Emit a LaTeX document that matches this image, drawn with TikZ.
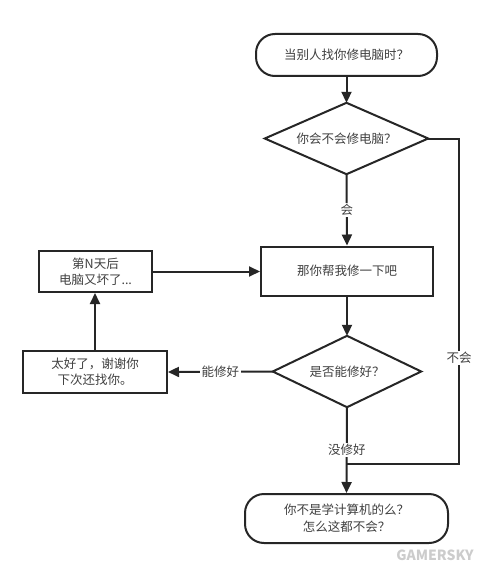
\documentclass[tikz,border=0pt]{standalone}
\usepackage{fontspec}
\setmainfont{Noto Sans CJK SC}
\usetikzlibrary{shapes.geometric,arrows.meta}
\definecolor{linec}{HTML}{262626}
\definecolor{textc}{HTML}{404040}
\tikzset{
  base/.style={draw=linec, line width=2pt, text=textc, font=\fontsize{12.5}{15.5}\selectfont, align=center, inner sep=0pt},
  procbox/.style={base, rectangle},
  termbox/.style={base, rectangle, rounded corners=19pt},
  decide/.style={rectangle, text=textc, font=\fontsize{12.5}{15.5}\selectfont, align=center, inner sep=0pt},
  diaedge/.style={draw=linec, line width=2pt, line join=miter},
  conn/.style={draw=linec, line width=2pt, -{Triangle[length=11pt,width=10pt]}},
  plainconn/.style={draw=linec, line width=2pt},
  lbl/.style={fill=white, text=textc, font=\fontsize{12.5}{15}\selectfont, inner sep=1.5pt},
}
\begin{document}
\begin{tikzpicture}[x=1pt,y=-1pt]
\useasboundingbox[fill=white] (0,0) rectangle (489,567);
\node[termbox, minimum width=181pt, minimum height=42pt] (start) at (346.5,55) {当别人找你修电脑时？};
\node[decide, minimum width=163pt, minimum height=71pt] (d1) at (346.5,138.5) {你会不会修电脑？};
\draw[diaedge] (d1.north) -- (d1.east) -- (d1.south) -- (d1.west) -- cycle;
\node[procbox, minimum width=172pt, minimum height=49pt] (help) at (347,271) {那你帮我修一下吧};
\node[decide, minimum width=148pt, minimum height=71pt] (d2) at (347,371.5) {是否能修好？};
\draw[diaedge] (d2.north) -- (d2.east) -- (d2.south) -- (d2.west) -- cycle;
\node[procbox, minimum width=144pt, minimum height=42pt] (thanks) at (95,372) {太好了，谢谢你\\下次还找你。};
\node[procbox, minimum width=113pt, minimum height=41pt] (nday) at (95.5,271.5) {第N天后\\电脑又坏了...};
\node[termbox, minimum width=203pt, minimum height=49pt, font=\fontsize{12.5}{17}\selectfont] (endn) at (346.5,518.5) {你不是学计算机的么？\\怎么这都不会？};

\coordinate (rc) at (459,464);
\coordinate (join) at (346.5,464);

\draw[conn] (start.south) -- (d1.north);
\draw[conn] (d1.south) -- node[lbl] (lhui) {会} (help.north);
\draw[conn] (help.south) -- (d2.north);
\draw[conn] (d2.west) -- node[lbl] (lok) {能修好} (thanks.east);
\draw[conn] (thanks.north) -- (thanks.north |- nday.south);
\draw[conn] (nday.east) -- (nday.east -| help.west);
\draw[conn] (d2.south) -- node[lbl] (lfail) {没修好} (endn.north);
\draw[plainconn] (d1.east) -| (rc) -- (join);
\node[lbl] (lno) at (459,358) {不会};

\node[text=black!20, font=\bfseries\itshape\fontsize{14}{14}\selectfont] (wm) at (435,555) {GAMERSKY};
\end{tikzpicture}
\end{document}
